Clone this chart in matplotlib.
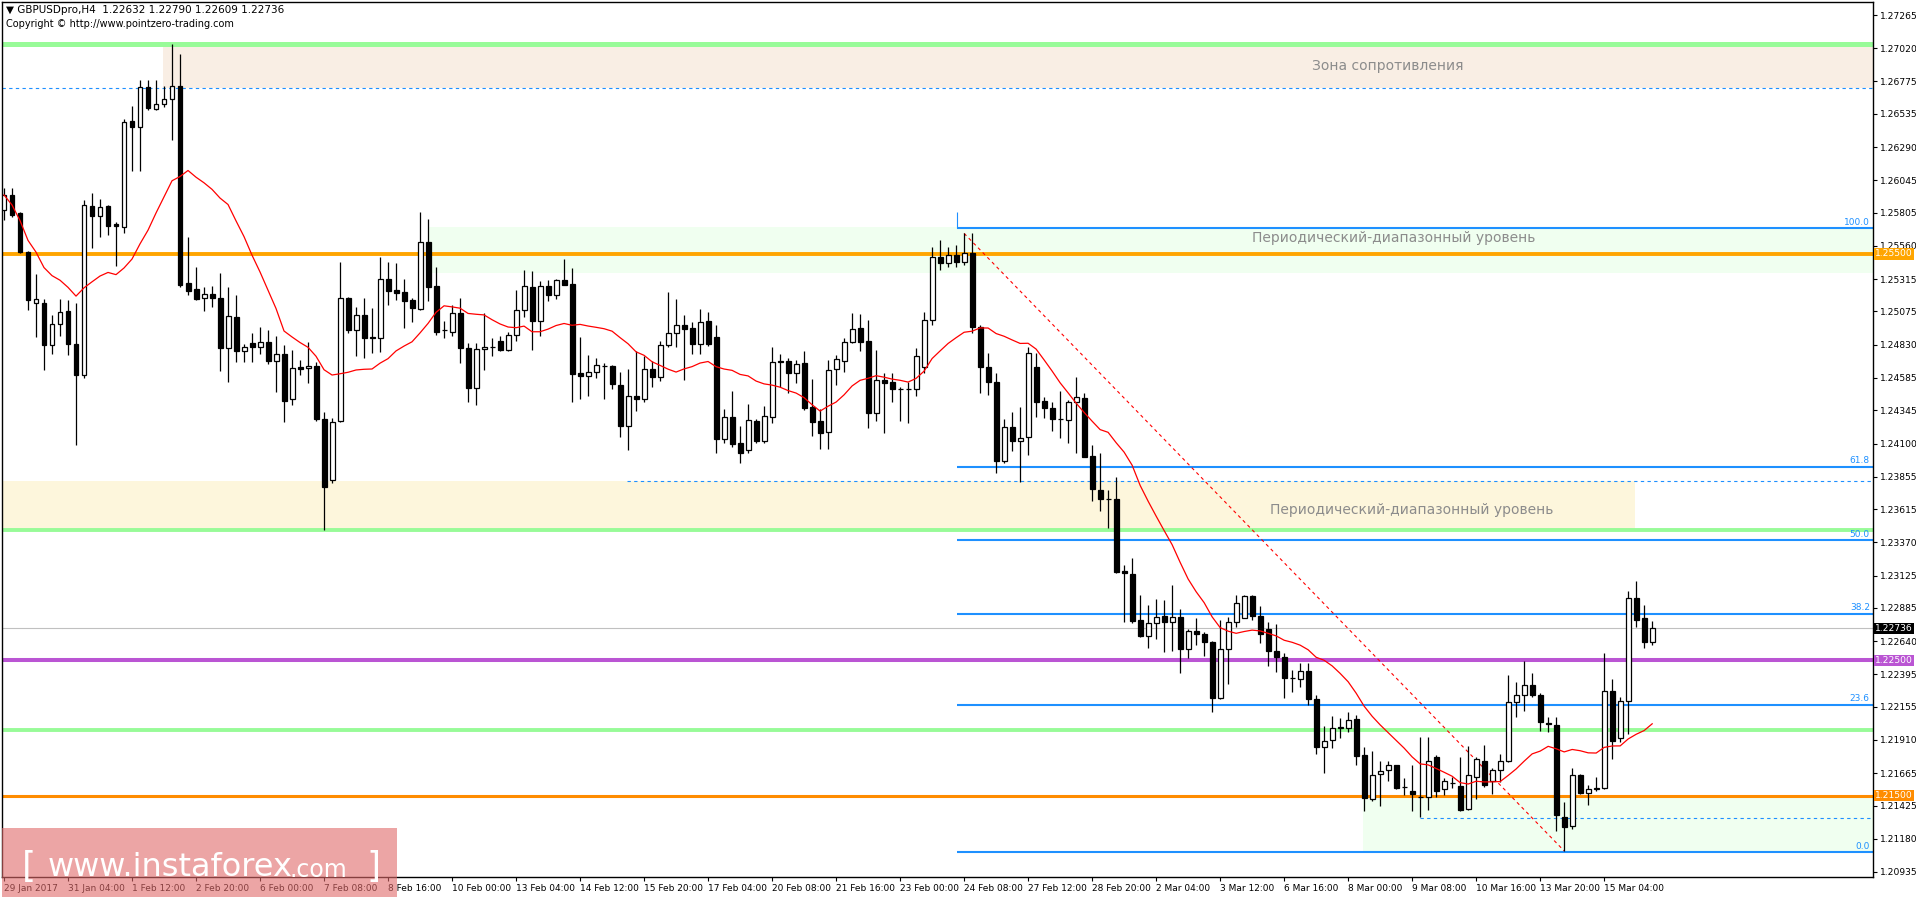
import matplotlib
matplotlib.use("Agg")
import matplotlib.pyplot as plt
import numpy as np
import pandas as pd
from matplotlib.patches import Rectangle

opens = [1.25825,1.25936,1.25800,1.25517,1.25135,1.25140,1.24828,1.24983,1.25079,1.24832,
1.24606,1.25857,1.25783,1.25854,1.25719,1.25702,1.26482,1.26440,1.26731,1.26571,
1.26605,1.26645,1.26741,1.25283,1.25241,1.25172,1.25204,1.25172,1.24808,1.25037,
1.24786,1.24845,1.24810,1.24847,1.24712,1.24761,1.24426,1.24667,1.24655,1.24672,
1.24278,1.23830,1.24269,1.25172,1.24938,1.25049,1.24884,1.24877,1.25313,1.25234,
1.25217,1.25160,1.25091,1.25591,1.25263,1.24938,1.24926,1.25061,1.24803,1.24507,
1.24796,1.24813,1.24855,1.24791,1.24899,1.25084,1.25256,1.25007,1.25261,1.25199,
1.25305,1.25276,1.24618,1.24601,1.24626,1.24670,1.24670,1.24530,1.24232,1.24448,
1.24426,1.24648,1.24594,1.24825,1.24914,1.24975,1.24951,1.24832,1.25002,1.24884,
1.24136,1.24293,1.24101,1.24052,1.24264,1.24116,1.24293,1.24707,1.24709,1.24623,
1.24695,1.24367,1.24264,1.24187,1.24648,1.24712,1.24847,1.24951,1.24857,1.24328,
1.24569,1.24552,1.24500,1.24500,1.24500,1.24667,1.25010,1.25480,1.25431,1.25492,
1.25443,1.25505,1.24963,1.24667,1.24557,1.23973,1.24219,1.24121,1.24145,1.24667,
1.24414,1.24360,1.24278,1.24274,1.24404,1.24434,1.24008,1.23756,1.23690,1.23690,
1.23156,1.23136,1.22796,1.22680,1.22771,1.22826,1.22784,1.22821,1.22579,1.22715,
1.22693,1.22631,1.22217,1.22579,1.22779,1.22808,1.22976,1.22826,1.22727,1.22570,
1.22520,1.22365,1.22358,1.22422,1.22210,1.21856,1.21910,1.22001,1.22001,1.22062,
1.21800,1.21471,1.21661,1.21690,1.21724,1.21564,1.21534,1.21492,1.21492,1.21783,
1.21547,1.21589,1.21568,1.21399,1.21640,1.21758,1.21606,1.21690,1.21754,1.22188,
1.22239,1.22315,1.22243,1.22036,1.22020,1.21344,1.21273,1.21648,1.21522,1.21547,
1.21555,1.22273,1.21923,1.22197,1.22956,1.22813,1.22632]
highs = [1.25985,1.25985,1.25812,1.25524,1.25352,1.25165,1.25049,1.25167,1.25160,1.25135,
1.25899,1.25953,1.25904,1.25862,1.25739,1.26497,1.26593,1.26785,1.26785,1.26785,
1.26741,1.27051,1.26977,1.25628,1.25401,1.25258,1.25263,1.25357,1.25258,1.25197,
1.24835,1.24914,1.24963,1.24938,1.24894,1.24828,1.24791,1.24717,1.24852,1.24704,
1.24330,1.24286,1.25443,1.25185,1.25106,1.25172,1.25098,1.25480,1.25443,1.25431,
1.25313,1.25172,1.25808,1.25756,1.25401,1.25007,1.25123,1.25172,1.24840,1.24840,
1.25061,1.24882,1.24894,1.24926,1.25234,1.25382,1.25374,1.25300,1.25308,1.25313,
1.25463,1.25396,1.24887,1.24751,1.24729,1.24692,1.24680,1.24626,1.24650,1.24783,
1.24749,1.24707,1.24855,1.25219,1.25167,1.25049,1.25000,1.25093,1.25069,1.24975,
1.24355,1.24488,1.24229,1.24392,1.24278,1.24377,1.24813,1.24761,1.24734,1.24717,
1.24783,1.24576,1.24357,1.24717,1.24754,1.24882,1.25064,1.25054,1.25012,1.24791,
1.24618,1.24618,1.24520,1.24557,1.24803,1.25074,1.25554,1.25603,1.25554,1.25566,
1.25652,1.25652,1.24975,1.24766,1.24618,1.24278,1.24330,1.24367,1.24815,1.24766,
1.24441,1.24404,1.24488,1.24421,1.24594,1.24475,1.24089,1.24027,1.23756,1.23855,
1.23202,1.23252,1.22981,1.22907,1.22949,1.22944,1.23055,1.22875,1.22727,1.22808,
1.22705,1.22641,1.22796,1.22816,1.22981,1.22981,1.22981,1.22902,1.22784,1.22764,
1.22550,1.22427,1.22476,1.22476,1.22242,1.22016,1.22087,1.22070,1.22114,1.22094,
1.21859,1.21830,1.21758,1.21758,1.21724,1.21631,1.21724,1.21935,1.21935,1.21800,
1.21631,1.21640,1.21787,1.21863,1.21787,1.21872,1.21703,1.21809,1.22387,1.22336,
1.22496,1.22408,1.22260,1.22083,1.22083,1.21450,1.21703,1.21661,1.21576,1.21640,
1.22556,1.22357,1.22231,1.23011,1.23087,1.22906,1.22790]
lows = [1.25751,1.25776,1.25505,1.25086,1.24884,1.24643,1.24761,1.24894,1.24754,1.24089,
1.24581,1.25542,1.25628,1.25640,1.25414,1.25652,1.26115,1.26115,1.26563,1.26563,
1.26588,1.26342,1.25253,1.25197,1.25160,1.25081,1.25106,1.24638,1.24552,1.24704,
1.24704,1.24704,1.24761,1.24687,1.24478,1.24256,1.24384,1.24606,1.24549,1.24269,
1.23461,1.23806,1.24261,1.24914,1.24746,1.24729,1.24771,1.24778,1.25123,1.25160,
1.24951,1.25000,1.25086,1.25155,1.24901,1.24882,1.24894,1.24697,1.24409,1.24384,
1.24643,1.24749,1.24783,1.24783,1.24857,1.25037,1.24791,1.24894,1.25155,1.25167,
1.25273,1.24409,1.24429,1.24453,1.24586,1.24429,1.24505,1.24145,1.24052,1.24342,
1.24409,1.24520,1.24564,1.24815,1.24815,1.24569,1.24759,1.24761,1.24823,1.24027,
1.24101,1.24077,1.23953,1.24027,1.24101,1.24106,1.24254,1.24515,1.24470,1.24544,
1.24347,1.24158,1.24057,1.24057,1.24532,1.24631,1.24840,1.24786,1.24212,1.24269,
1.24180,1.24409,1.24269,1.24254,1.24451,1.24621,1.24975,1.25382,1.25406,1.25406,
1.25418,1.24914,1.24470,1.24458,1.23884,1.23953,1.24047,1.23818,1.24015,1.24293,
1.24286,1.24195,1.24138,1.24101,1.24027,1.24003,1.23678,1.23604,1.23478,1.23141,
1.22784,1.22776,1.22673,1.22587,1.22656,1.22562,1.22570,1.22402,1.22513,1.22611,
1.22533,1.22114,1.22210,1.22321,1.22742,1.22808,1.22796,1.22624,1.22459,1.22414,
1.22217,1.22262,1.22299,1.22168,1.21806,1.21668,1.21848,1.21922,1.21971,1.21725,
1.21387,1.21463,1.21420,1.21606,1.21547,1.21505,1.21387,1.21344,1.21395,1.21492,
1.21505,1.21555,1.21387,1.21395,1.21471,1.21564,1.21513,1.21598,1.21745,1.22083,
1.22125,1.22231,1.21977,1.21969,1.21239,1.21091,1.21252,1.21513,1.21429,1.21534,
1.21547,1.21766,1.21893,1.21956,1.22745,1.22589,1.22609]
closes = [1.25936,1.25788,1.25517,1.25160,1.25167,1.24828,1.24983,1.25069,1.24832,1.24606,
1.25862,1.25783,1.25849,1.25709,1.25709,1.26477,1.26440,1.26731,1.26581,1.26605,
1.26645,1.26741,1.25271,1.25229,1.25167,1.25204,1.25172,1.24808,1.25042,1.24786,
1.24810,1.24810,1.24847,1.24712,1.24759,1.24416,1.24655,1.24653,1.24672,1.24278,
1.23781,1.24261,1.25172,1.24938,1.25049,1.24882,1.24877,1.25313,1.25229,1.25214,
1.25155,1.25098,1.25591,1.25258,1.24926,1.24936,1.25061,1.24803,1.24507,1.24796,
1.24810,1.24815,1.24791,1.24899,1.25084,1.25261,1.25007,1.25261,1.25199,1.25305,
1.25273,1.24616,1.24601,1.24626,1.24677,1.24670,1.24537,1.24232,1.24448,1.24426,
1.24648,1.24594,1.24825,1.24914,1.24973,1.24943,1.24837,1.24995,1.24837,1.24136,
1.24293,1.24096,1.24027,1.24271,1.24116,1.24301,1.24699,1.24699,1.24623,1.24685,
1.24365,1.24261,1.24180,1.24640,1.24722,1.24847,1.24943,1.24852,1.24328,1.24569,
1.24544,1.24500,1.24500,1.24500,1.24749,1.25010,1.25480,1.25431,1.25492,1.25443,
1.25505,1.24963,1.24667,1.24557,1.23973,1.24219,1.24121,1.24138,1.24766,1.24409,
1.24360,1.24278,1.24278,1.24404,1.24441,1.24003,1.23761,1.23687,1.23690,1.23148,
1.23141,1.22791,1.22680,1.22771,1.22821,1.22784,1.22816,1.22579,1.22715,1.22690,
1.22631,1.22217,1.22579,1.22779,1.22919,1.22976,1.22826,1.22690,1.22570,1.22520,
1.22365,1.22365,1.22422,1.22210,1.21856,1.21905,1.22001,1.22001,1.22057,1.21794,
1.21479,1.21648,1.21682,1.21724,1.21555,1.21564,1.21513,1.21490,1.21754,1.21534,
1.21606,1.21592,1.21395,1.21652,1.21766,1.21576,1.21690,1.21754,1.22188,1.22239,
1.22315,1.22243,1.22041,1.22028,1.21353,1.21268,1.21648,1.21522,1.21547,1.21555,
1.22273,1.21901,1.22197,1.22956,1.22800,1.22631,1.22736]

date_labels = ["29 Jan 2017","31 Jan 04:00","1 Feb 12:00","2 Feb 20:00","6 Feb 00:00","7 Feb 08:00",
"8 Feb 16:00","10 Feb 00:00","13 Feb 04:00","14 Feb 12:00","15 Feb 20:00","17 Feb 04:00",
"20 Feb 08:00","21 Feb 16:00","23 Feb 00:00","24 Feb 08:00","27 Feb 12:00","28 Feb 20:00",
"2 Mar 04:00","3 Mar 12:00","6 Mar 16:00","8 Mar 00:00","9 Mar 08:00","10 Mar 16:00",
"13 Mar 20:00","15 Mar 04:00"]
price_ticks = [1.27265,1.27020,1.26775,1.26535,1.26290,1.26045,1.25805,1.25560,1.25315,1.25075,
1.24830,1.24585,1.24345,1.24100,1.23855,1.23615,1.23370,1.23125,1.22885,1.22640,1.22395,
1.22155,1.21910,1.21665,1.21425,1.21180,1.20935]

fib_low, fib_high = 1.2108, 1.2569
fib_levels = [0.0, 23.6, 38.2, 50.0, 61.8, 100.0]
resist_top, resist_bottom = 1.27051, 1.26726
upper_zone = (1.25359, 1.25700)
lower_zone = (1.23463, 1.23820)
bottom_zone_dash = 1.21336
green_mid = 1.21986
lvl_orange_hi, lvl_orange_lo, lvl_purple = 1.25500, 1.21500, 1.22500
ma_period = 14

W, H = 1916, 897
fig = plt.figure(figsize=(W/100, H/100), dpi=100)
ax = fig.add_axes([2/W, 20/H, 1871/W, 875/H])
n = len(closes)
x = np.arange(n)
ymax = 1.27265 + 13*7.387e-5
ymin = 1.20935 - 5*7.387e-5
ax.set_ylim(ymin, ymax)
ax.set_xlim(-0.25, 233.6)
R = 233.6

# zones
ax.fill_between([19.9, R], resist_bottom, resist_top, color="#F9EEE4", lw=0, zorder=0)
ax.fill_between([53, R], upper_zone[0], upper_zone[1], color="#F0FFF0", lw=0, zorder=0)
ax.fill_between([-0.25, 203.9], lower_zone[0], lower_zone[1], color="#FDF6DC", lw=0, zorder=0)
ax.fill_between([169.9, R], fib_low, lvl_orange_lo, color="#F0FFF0", lw=0, zorder=0)

# horizontal lines
ax.axhline(resist_top, color="#98FB98", lw=3.6, zorder=1)
ax.axhline(resist_bottom, color="#1E90FF", lw=0.8, ls=(0, (3, 3)), zorder=1)
ax.axhline(lower_zone[0], color="#98FB98", lw=2.8, zorder=1)
ax.axhline(green_mid, color="#98FB98", lw=2.8, zorder=1)
ax.hlines(lower_zone[1], 77.9, R, color="#1E90FF", lw=0.8, ls=(0, (3, 3)), zorder=1)
ax.hlines(bottom_zone_dash, 177, R, color="#1E90FF", lw=0.8, ls=(0, (3, 3)), zorder=1)
ax.axhline(closes[-1], color="#C0C0C0", lw=0.8, zorder=1)
ax.axhline(lvl_orange_hi, color="#FFA500", lw=2.8, zorder=2)
ax.axhline(lvl_orange_lo, color="#FF8C00", lw=2.2, zorder=2)
ax.axhline(lvl_purple, color="#BA55D3", lw=2.9, zorder=2)
for lv in fib_levels:
    p = fib_low + (fib_high - fib_low) * lv / 100
    ax.hlines(p, 119.1, R, color="#1E90FF", lw=1.5, zorder=2)
    ax.text(R - 0.4, p + 0.00012, "%.1f" % lv, color="#1E90FF", fontsize=6.5,
            ha="right", va="bottom", zorder=3)
ax.vlines(119.1, fib_high, fib_high + 0.0012, color="#1E90FF", lw=0.8)
ax.plot([120, 195], [highs[120], lows[195]], color="red", lw=0.8, ls=(0, (3, 3)), zorder=2)

# texts
ax.text(173, 1.26890, "Зона сопротивления", color="#8C8C8C", fontsize=10, ha="center", va="center")
ax.text(173.7, 1.25618, "Периодический-диапазонный уровень", color="#8C8C8C", fontsize=10, ha="center", va="center")
ax.text(176, 1.23609, "Периодический-диапазонный уровень", color="#8C8C8C", fontsize=10, ha="center", va="center")

# candles
o = np.array(opens); c = np.array(closes); h = np.array(highs); l = np.array(lows)
ax.vlines(x, l, h, color="black", lw=0.9, zorder=4)
bull = c >= o
bottom = np.minimum(o, c)
hgt = np.maximum(np.abs(c - o), 0.00002)
ax.bar(x[bull], hgt[bull], bottom=bottom[bull], width=0.62, facecolor="white",
       edgecolor="black", lw=0.9, zorder=5)
ax.bar(x[~bull], hgt[~bull], bottom=bottom[~bull], width=0.62, facecolor="black",
       edgecolor="black", lw=0.9, zorder=5)

ma = pd.Series(closes).rolling(ma_period, min_periods=1).mean()
ax.plot(x, ma, color="red", lw=0.9, zorder=6)

# axes styling
for s in ax.spines.values():
    s.set_linewidth(1.0)
ax.yaxis.tick_right()
ax.set_yticks(price_ticks)
ax.set_yticklabels(["%.5f" % t for t in price_ticks], fontsize=6.6)
ax.tick_params(axis="y", length=3, pad=2)
ax.set_xticks(np.arange(0, 8*len(date_labels), 8))
ax.set_xticklabels(date_labels, fontsize=6.5, ha="left")
ax.tick_params(axis="x", length=3, pad=2)

def tag(p, txt, bg, fg="white"):
    ax.text(1.0012, p, txt, transform=ax.get_yaxis_transform(), fontsize=6.6, color=fg,
            va="center", ha="left", zorder=10,
            bbox=dict(boxstyle="square,pad=0.12", facecolor=bg, edgecolor="none"))
tag(lvl_orange_hi, "1.25500", "#FFA500")
tag(closes[-1], "%.5f" % closes[-1], "black")
tag(lvl_purple, "1.22500", "#BA55D3")
tag(lvl_orange_lo, "1.21500", "#FF8C00")

fig.text(6/W, 1 - 10/H, "\u25bc GBPUSDpro,H4  1.22632 1.22790 1.22609 1.22736", fontsize=7.5, va="center")
fig.text(6/W, 1 - 24/H, "Copyright \u00a9 http://www.pointzero-trading.com", fontsize=7, va="center")

# watermark
fig.patches.append(Rectangle((2/W, 0), 395/W, 69/H, transform=fig.transFigure,
                             facecolor="#E06A6A", alpha=0.6, edgecolor="none", zorder=20))
fig.text(22/W, 30/H, "[", fontsize=26, color="white", va="center", zorder=21)
fig.text(48/W, 30/H, "www.instaforex", fontsize=23, color="white", va="center", zorder=21)
fig.text(290/W, 27/H, ".com", fontsize=17, color="white", va="center", zorder=21)
fig.text(366/W, 30/H, "]", fontsize=26, color="white", va="center", zorder=21)

fig.savefig("out.png", dpi=100)
